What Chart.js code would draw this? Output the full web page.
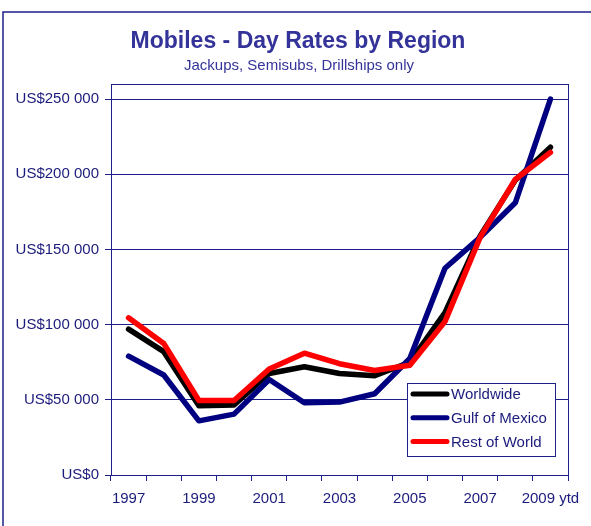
<!DOCTYPE html>
<html>
<head>
<meta charset="utf-8">
<script src="https://cdn.jsdelivr.net/npm/chart.js@4"></script>
<style>
  html, body { margin: 0; padding: 0; background: #fff; }
  #wrap { width: 591px; height: 526px; position: relative; }
</style>
</head>
<body>
<div id="wrap"><canvas id="chart"></canvas></div>
<script>
// ==== data ====
const years = ['1997', '1998', '1999', '2000', '2001', '2002', '2003', '2004', '2005', '2006', '2007', '2008', '2009 ytd'];
const worldwide = [97000, 82000, 46000, 46500, 67500, 72000, 67500, 66000, 75000, 108000, 159000, 196000, 218000];
const gulfOfMexico = [79000, 66500, 36000, 40500, 63500, 48000, 48500, 54000, 77500, 137500, 158000, 181000, 250000];
const restOfWorld = [104500, 87500, 49500, 49500, 70500, 81000, 74000, 69500, 73000, 102000, 158000, 196500, 214500];
const yTicks = [0, 50000, 100000, 150000, 200000, 250000];

const titleText = 'Mobiles - Day Rates by Region';
const subtitleText = 'Jackups, Semisubs, Drillships only';

const navy = '#1f1f8a';
const textNavy = '#1b1b7c';
const FONT = '"Liberation Sans", Arial, sans-serif';

// outer frame, titles, plot box and the legend inside the plot
const framePlugin = {
    id: 'frame',
    beforeDraw(c) {
        const ctx = c.ctx;
        ctx.save();
        ctx.strokeStyle = navy;
        ctx.lineWidth = 1.5;
        ctx.strokeRect(3, 12, 700, 700);

        ctx.fillStyle = '#333399';
        ctx.textAlign = 'center';
        ctx.textBaseline = 'middle';
        ctx.font = 'bold 23px ' + FONT;
        ctx.fillText(titleText, 298, 42);
        ctx.font = '15px ' + FONT;
        ctx.fillText(subtitleText, 299, 66);
        ctx.restore();
    },
    afterDatasetsDraw(c) {
        const ctx = c.ctx;
        const a = c.chartArea;
        ctx.save();
        ctx.strokeStyle = navy;
        ctx.lineWidth = 1;
        ctx.strokeRect(a.left + 0.5, a.top + 0.5, a.right - a.left, a.bottom - a.top);

        // legend box
        const x = 407.5, y = 383.5, w = 148, h = 73;
        ctx.fillStyle = '#fff';
        ctx.fillRect(x, y, w, h);
        ctx.strokeRect(x, y, w, h);
        ctx.font = '15px ' + FONT;
        ctx.textBaseline = 'middle';
        [0, 1, 2].forEach((i, k) => {
            const ds = c.data.datasets[i];
            const cy = 394 + k * 23.7;
            ctx.strokeStyle = ds.borderColor;
            ctx.lineWidth = 5;
            ctx.lineCap = 'round';
            ctx.beginPath();
            ctx.moveTo(413, cy);
            ctx.lineTo(447, cy);
            ctx.stroke();
            ctx.fillStyle = textNavy;
            ctx.fillText(ds.label, 451, cy + 1);
        });
        ctx.restore();
    }
};

new Chart(document.querySelector('#chart'), {
    type: 'line',
    data: {
        labels: years,
        datasets: [
            { label: 'Worldwide', data: worldwide, borderColor: '#000000', order: 3 },
            { label: 'Gulf of Mexico', data: gulfOfMexico, borderColor: '#000080', order: 2 },
            { label: 'Rest of World', data: restOfWorld, borderColor: '#ff0000', order: 1 }
        ]
    },
    options: {
        responsive: true,
        maintainAspectRatio: false,
        animation: false,
        elements: {
            line: { borderWidth: 5.5, tension: 0, borderJoinStyle: 'round', borderCapStyle: 'round' },
            point: { radius: 0 }
        },
        layout: { padding: { left: 0, right: 23, top: 84, bottom: 0 } },
        plugins: {
            legend: { display: false },
            tooltip: { enabled: false }
        },
        scales: {
            x: {
                offset: true,
                grid: { offset: true, drawOnChartArea: false, drawTicks: true, tickLength: 6, color: navy },
                border: { color: navy },
                ticks: {
                    autoSkip: false,
                    maxRotation: 0,
                    padding: 9,
                    color: textNavy,
                    font: { family: FONT, size: 15 },
                    callback: (v, i) => (i % 2 === 0 ? years[i] : '')
                },
                afterFit: s => { s.height = 51; }
            },
            y: {
                min: 0,
                max: 260000,
                afterBuildTicks: s => { s.ticks = yTicks.map(v => ({ value: v })); },
                grid: { color: navy, tickLength: 6 },
                border: { color: navy },
                ticks: {
                    padding: 6,
                    color: textNavy,
                    font: { family: FONT, size: 15 },
                    callback: v => 'US$' + (v === 0 ? '0' : Math.floor(v / 1000) + ' 000')
                },
                afterFit: s => { s.width = 111; }
            }
        }
    },
    plugins: [framePlugin]
});
</script>
</body>
</html>
